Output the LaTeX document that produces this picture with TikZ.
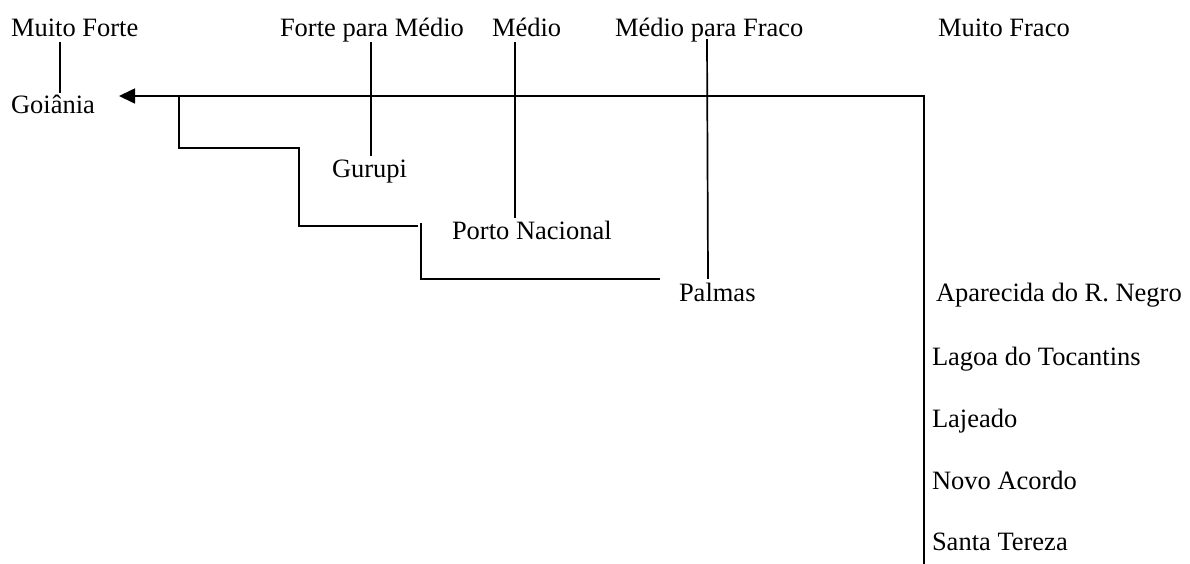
\documentclass[tikz,border=0pt]{standalone}
\usepackage{fontspec}
\setmainfont{Liberation Serif}
\usetikzlibrary{arrows.meta}
\begin{document}
\begin{tikzpicture}[x=1pt,y=-1pt,
  lbl/.style={anchor=base west,inner sep=0pt,outer sep=0pt,font=\fontsize{26.5}{30}\selectfont},
  ln/.style={line width=1.7pt,line cap=rect},
  arr/.style={line width=1.7pt,-{Triangle[length=16pt,width=15pt]}}]
\useasboundingbox (0,0) rectangle (1190,563);
% top categories
\node[lbl] (mf) at (11,36) {Muito Forte};
\node[lbl] (fm) at (280,36) {Forte para Médio};
\node[lbl] (me) at (492,36) {Médio};
\node[lbl] (mfr) at (615,36) {Médio para Fraco};
\node[lbl] (mfo) at (938,36) {Muito Fraco};
% cities
\node[lbl] (goi) at (11,113) {Goiânia};
\node[lbl] (gur) at (332,177) {Gurupi};
\node[lbl] (pn) at (452,239) {Porto Nacional};
\node[lbl] (pal) at (679,301) {Palmas};
\node[lbl] (apa) at (936,301) {Aparecida do R. Negro};
\node[lbl] (lag) at (932,365) {Lagoa do Tocantins};
\node[lbl] (laj) at (932,427) {Lajeado};
\node[lbl] (nov) at (932,489) {Novo Acordo};
\node[lbl] (san) at (932,550) {Santa Tereza};
% coordinates
\coordinate (mfA) at (60,43);   \coordinate (mfB) at (60,92);
\coordinate (fmA) at (371,43);  \coordinate (fmB) at (371,155);
\coordinate (meA) at (515,43);  \coordinate (meB) at (515,217);
\coordinate (mrA) at (707,40);  \coordinate (mrB) at (708,278);
\coordinate (corner) at (924,96);
\coordinate (tip) at (119,96);
\coordinate (bot) at (924,563);
\coordinate (s1) at (179,96);
\coordinate (s2) at (179,148);
\coordinate (s3) at (297,148);
\coordinate (s4) at (299,148);
\coordinate (s5) at (299,226);
\coordinate (s6) at (417,226);
\coordinate (s7) at (421,224);
\coordinate (s8) at (421,279);
\coordinate (s9) at (659,279);
% connectors
\draw[ln] (mfA) -- (mfB);
\draw[ln] (fmA) -- (fmB);
\draw[ln] (meA) -- (meB);
\draw[ln] (mrA) -- (mrB);
\draw[ln] (bot) -- (corner);
\draw[arr] (corner) -- (tip);
\draw[ln] (s1) -- (s2) -- (s3);
\draw[ln] (s4) -- (s5) -- (s6);
\draw[ln] (s7) -- (s8) -- (s9);
\end{tikzpicture}
\end{document}
